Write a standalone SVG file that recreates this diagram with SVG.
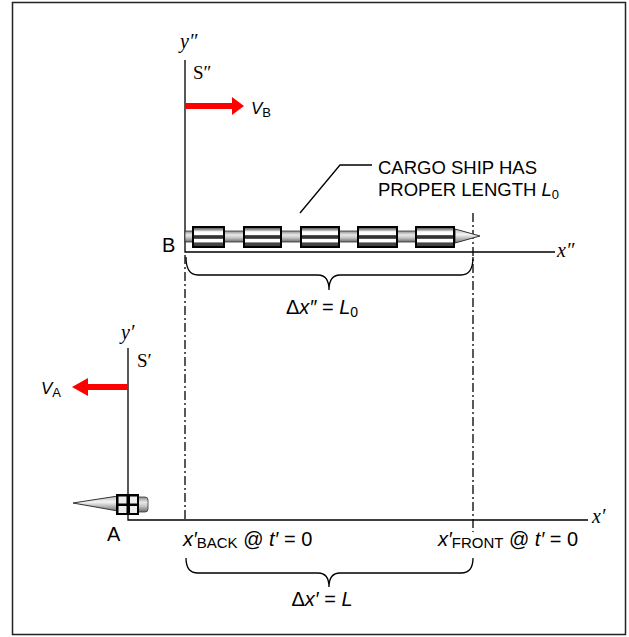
<svg xmlns="http://www.w3.org/2000/svg" width="629" height="637" viewBox="0 0 629 637">
<defs>
<style>
.ax{stroke:#000;stroke-width:1.3;fill:none}
.dd{stroke:#000;stroke-width:1.3;fill:none;stroke-dasharray:9 3 2 3}
.br{stroke:#000;stroke-width:1.3;fill:none}
.sans{font-family:"Liberation Sans",Arial,sans-serif;fill:#000}
.ser{font-family:"Liberation Serif","Times New Roman",serif;fill:#000}
.red{fill:#ff0000}
.box{fill:url(#stripe);stroke:#000;stroke-width:2}
</style>
<linearGradient id="rod" x1="0" y1="0" x2="0" y2="1">
<stop offset="0" stop-color="#8a8a8a"/><stop offset="0.35" stop-color="#e8e8e8"/><stop offset="0.6" stop-color="#c8c8c8"/><stop offset="1" stop-color="#6a6a6a"/>
</linearGradient>
<linearGradient id="cone" x1="0" y1="0" x2="0" y2="1">
<stop offset="0" stop-color="#bbb"/><stop offset="0.4" stop-color="#f4f4f4"/><stop offset="1" stop-color="#777"/>
</linearGradient>
<linearGradient id="stripe" x1="0" y1="0" x2="0" y2="1">
<stop offset="0" stop-color="#444"/><stop offset="0.14" stop-color="#999"/><stop offset="0.24" stop-color="#fff"/><stop offset="0.4" stop-color="#fff"/><stop offset="0.43" stop-color="#333"/><stop offset="0.57" stop-color="#333"/><stop offset="0.6" stop-color="#fff"/><stop offset="0.74" stop-color="#fff"/><stop offset="0.8" stop-color="#444"/><stop offset="1" stop-color="#444"/>
</linearGradient>
</defs>
<rect x="0" y="0" width="629" height="637" fill="#fff"/>
<rect x="12.5" y="2.5" width="613" height="632" fill="none" stroke="#222" stroke-width="1.5"/>

<g id="connectors">
<path class="dd" d="M185,255 V520"/>
<path class="dd" d="M473,213 V532"/>
<path class="br" d="M186,257 Q186,275 198,275 H318 Q329,275 329,290 Q329,275 340,275 H461 Q473,275 473,257"/>
<path class="br" d="M186,558 Q186,573 198,573 H318 Q329,573 329,587 Q329,573 340,573 H461 Q473,573 473,558"/>
<path class="ax" d="M300,213 L340,165 H372"/>
</g>

<g id="frame-S2">
<path class="ax" d="M185,60 V252 H555"/>
<text class="ser" x="180" y="48" font-size="20" font-style="italic">y″</text>
<text class="ser" x="193" y="79" font-size="19">S″</text>
<text class="ser" x="557" y="257" font-size="20" font-style="italic">x″</text>
</g>

<g id="arrow-VB">
<rect class="red" x="185" y="103" width="48" height="6"/>
<polygon class="red" points="232,97 244,106 232,115"/>
<text class="sans" x="251" y="114" font-size="17" font-style="italic">V<tspan font-style="normal" font-size="13" dy="3">B</tspan></text>
</g>

<g id="ship-B">
<rect x="185" y="231" width="271" height="11" fill="url(#rod)" stroke="#333" stroke-width="0.8"/>
<polygon points="455,229 480,236 455,243" fill="url(#cone)" stroke="#333" stroke-width="1"/>
<rect class="box" x="193" y="227" width="31" height="20"/>
<rect class="box" x="244" y="227" width="37" height="20"/>
<rect class="box" x="301" y="227" width="38" height="20"/>
<rect class="box" x="358" y="227" width="39" height="20"/>
<rect class="box" x="416" y="227" width="38" height="20"/>
<text class="sans" x="162" y="252" font-size="20">B</text>
</g>

<g id="label-cargo">
<text class="sans" x="378" y="174" font-size="18.5">CARGO SHIP HAS</text>
<text class="sans" x="378" y="196" font-size="18.5">PROPER LENGTH <tspan font-style="italic">L</tspan><tspan font-size="13" dy="3">0</tspan></text>
</g>

<g id="label-dx2">
<text class="sans" x="322" y="314" font-size="20" text-anchor="middle">Δ<tspan font-style="italic">x″</tspan> = <tspan font-style="italic">L</tspan><tspan font-size="14" dy="3">0</tspan></text>
</g>

<g id="frame-S1">
<path class="ax" d="M128,348 V520 H588"/>
<text class="ser" x="121" y="339" font-size="20" font-style="italic">y′</text>
<text class="ser" x="137" y="367" font-size="19">S′</text>
<text class="ser" x="592" y="523" font-size="20" font-style="italic">x′</text>
</g>

<g id="arrow-VA">
<rect class="red" x="87" y="384" width="41" height="6"/>
<polygon class="red" points="88,378 72,387 88,396"/>
<text class="sans" x="41" y="394" font-size="17" font-style="italic">V<tspan font-style="normal" font-size="13" dy="3">A</tspan></text>
</g>

<g id="ship-A">
<polygon points="73,503 118,496 118,511" fill="url(#cone)" stroke="#333" stroke-width="1"/>
<path d="M138,497 H145 Q148,497 148,500 V509 Q148,512 145,512 H138 Z" fill="url(#rod)" stroke="#333" stroke-width="0.8"/>
<rect x="116" y="494" width="23" height="21" fill="#000"/>
<rect x="118.5" y="496.5" width="8" height="7" fill="#eee"/>
<rect x="130" y="496.5" width="7" height="7" fill="#eee"/>
<rect x="118.5" y="506" width="8" height="7" fill="#eee"/>
<rect x="130" y="506" width="7" height="7" fill="#eee"/>
<text class="sans" x="107" y="541" font-size="20">A</text>
</g>

<g id="label-back">
<text class="sans" x="183" y="546" font-size="20"><tspan font-style="italic">x′</tspan><tspan font-size="15" dy="2">BACK</tspan><tspan dy="-2"> @ </tspan><tspan font-style="italic">t′</tspan> = 0</text>
</g>
<g id="label-front">
<text class="sans" x="438" y="546" font-size="20"><tspan font-style="italic">x′</tspan><tspan font-size="15" dy="2">FRONT</tspan><tspan dy="-2"> @ </tspan><tspan font-style="italic">t′</tspan> = 0</text>
</g>

<g id="label-dx1">
<text class="sans" x="322" y="606" font-size="20" text-anchor="middle">Δ<tspan font-style="italic">x′</tspan> = <tspan font-style="italic">L</tspan></text>
</g>
</svg>
